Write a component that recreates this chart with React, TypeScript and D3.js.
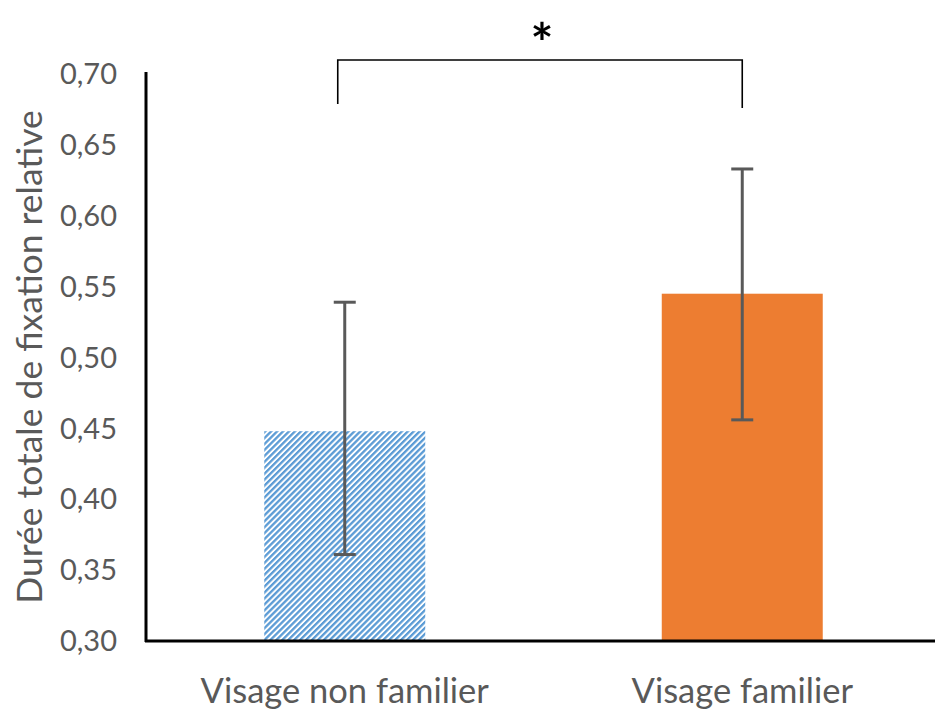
import React from "react";
import * as d3 from "d3";

const categories = ["Visage non familier", "Visage familier"];
const means = [0.448, 0.545];
const errLow = [0.361, 0.456];
const errHigh = [0.539, 0.633];
const yTicks = [0.3, 0.35, 0.4, 0.45, 0.5, 0.55, 0.6, 0.65, 0.7];
const yTitle = "Durée totale de fixation relative";
const sigLabel = "*";

const W = 935, H = 710;
const FONT = "Lato, 'Open Sans', sans-serif";

export default function App() {
  const x = d3.scaleBand<string>().domain(categories).range([146, 941]).paddingInner(0).paddingOuter(0);
  const y = d3.scaleLinear().domain([0.3, 0.7]).range([641, 74]);
  const bw = x.bandwidth() * 0.405;
  const fmt = (v: number) => d3.format(".2f")(v).replace(".", ",");
  const cx = (c: string) => (x(c) as number) + x.bandwidth() / 2;
  const capW = 22;
  const c0 = cx(categories[0]) - 7;
  const c1 = cx(categories[1]);

  return (
    <svg width={W} height={H} style={{ position: "absolute", left: 0, top: 0, background: "#fff" }}>
      <defs>
        <pattern id="hatch" width="4.2" height="4.2" patternUnits="userSpaceOnUse" patternTransform="rotate(45)">
          <rect width="4.2" height="4.2" fill="#ffffff" />
          <rect x="0" y="0" width="2.3" height="4.2" fill="#5b9bd5" />
        </pattern>
      </defs>
      {categories.map((c, i) => (
        <rect key={c} x={cx(c) - bw / 2} y={y(means[i])} width={bw} height={y(0.3) - y(means[i])}
          fill={i === 0 ? "url(#hatch)" : "#ed7d31"} />
      ))}
      {categories.map((c, i) => {
        const xc = cx(c);
        return (
          <g key={"e" + c} stroke="#595959" strokeWidth={3}>
            <line x1={xc} x2={xc} y1={y(errHigh[i])} y2={y(errLow[i])} />
            <line x1={xc - capW / 2} x2={xc + capW / 2} y1={y(errHigh[i])} y2={y(errHigh[i])} />
            <line x1={xc - capW / 2} x2={xc + capW / 2} y1={y(errLow[i])} y2={y(errLow[i])} />
          </g>
        );
      })}
      <line x1={146} x2={146} y1={72} y2={642} stroke="#000" strokeWidth={3} />
      <line x1={145} x2={935} y1={641} y2={641} stroke="#000" strokeWidth={3} />
      {yTicks.map((t) => (
        <text key={t} x={117} y={y(t)} dy="0.35em" textAnchor="end" fontFamily={FONT} fontSize={29} fill="#595959">
          {fmt(t)}
        </text>
      ))}
      {categories.map((c) => (
        <text key={"l" + c} x={cx(c)} y={703} textAnchor="middle" fontFamily={FONT} fontSize={34.5} fill="#595959">
          {c}
        </text>
      ))}
      <text transform={`translate(42,357) rotate(-90)`} textAnchor="middle" fontFamily={FONT} fontSize={35.5} fill="#595959">
        {yTitle}
      </text>
      <path d={`M${c0},104 V60 H${c1} V108`} fill="none" stroke="#000" strokeWidth={1.6} />
      <text x={(c0 + c1) / 2 + 2} y={62} textAnchor="middle" fontFamily={FONT} fontSize={54} fontWeight="bold" fill="#000">
        {sigLabel}
      </text>
    </svg>
  );
}
